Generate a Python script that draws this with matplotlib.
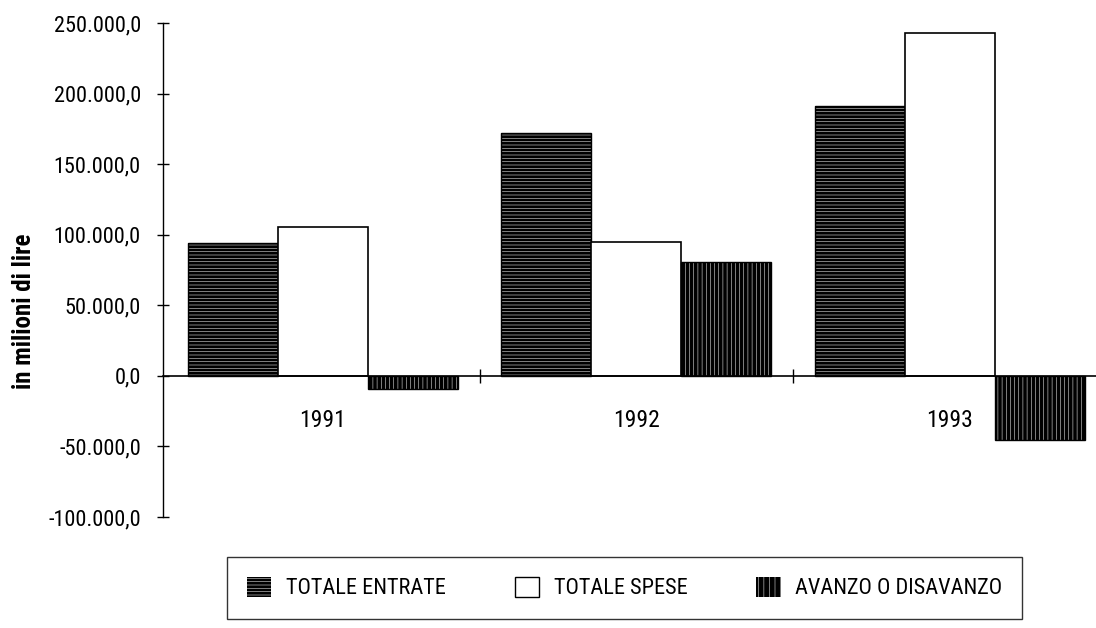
import matplotlib
matplotlib.use("Agg")
import matplotlib.pyplot as plt
from matplotlib.patches import Patch
from matplotlib.ticker import FixedLocator, FuncFormatter
import numpy as np

years = ["1991", "1992", "1993"]
totale_entrate = [94000, 171800, 191000]
totale_spese = [105400, 94800, 242600]
avanzo = [-9200, 80600, -45300]
labels = ["TOTALE ENTRATE", "TOTALE SPESE", "AVANZO O DISAVANZO"]

font = ["Roboto Condensed", "Roboto", "DejaVu Sans"]
plt.rcParams["font.family"] = font
plt.rcParams["hatch.linewidth"] = 0.35

fig = plt.figure(figsize=(10.96, 6.28), dpi=100)
ax = fig.add_axes([0.1487, 0.1768, 0.8513, 0.7866])

x = np.arange(len(years))
w = 0.287

# hatched fills (hatch lines take the edge colour), then black outlines
ax.bar(x - w, totale_entrate, w, color="black", edgecolor="white", hatch="-----", linewidth=0)
ax.bar(x - w, totale_entrate, w, fill=False, edgecolor="black", linewidth=1)
ax.bar(x, totale_spese, w, color="white", edgecolor="black", linewidth=1.2)
ax.bar(x + w, avanzo, w, color="black", edgecolor="white", hatch="||||", linewidth=0)
ax.bar(x + w, avanzo, w, fill=False, edgecolor="black", linewidth=1)

ax.set_xlim(-0.51, 2.466)
ax.set_ylim(-100000, 250000)

ax.spines["top"].set_visible(False)
ax.spines["right"].set_visible(False)
ax.spines["bottom"].set_position(("data", 0))
ax.spines["left"].set_linewidth(1)
ax.spines["bottom"].set_linewidth(1.2)

ax.set_yticks(np.arange(-100000, 250001, 50000))
ax.yaxis.set_major_formatter(FuncFormatter(
    lambda v, p: f"{v:,.1f}".replace(",", "X").replace(".", ",").replace("X", ".")))
ax.tick_params(axis="y", direction="inout", length=8, width=1, labelsize=16, pad=12)

ax.set_xticks(x)
ax.set_xticklabels(years)
ax.xaxis.set_minor_locator(FixedLocator([0.5, 1.5]))
ax.tick_params(axis="x", which="major", length=0, labelsize=17, pad=24)
ax.tick_params(axis="x", which="minor", direction="inout", length=10, width=1)

fig.text(0.022, 0.505, "in milioni di lire", rotation=90, ha="center", va="center",
         fontsize=18, fontweight="bold")

handles = [
    Patch(facecolor="black", edgecolor="white", hatch="-----", linewidth=0),
    Patch(facecolor="white", edgecolor="black", linewidth=1),
    Patch(facecolor="black", edgecolor="white", hatch="|||", linewidth=0),
]
leg = fig.legend(handles, labels, loc="lower left", bbox_to_anchor=(0.197, -0.004),
                 ncol=3, fontsize=16, frameon=True, fancybox=False,
                 handlelength=1.1, handleheight=1.0, handletextpad=0.65,
                 columnspacing=3.1, borderpad=0.9)
leg.get_frame().set_edgecolor("black")
leg.get_frame().set_linewidth(1)

fig.savefig("out.png", dpi=100)
